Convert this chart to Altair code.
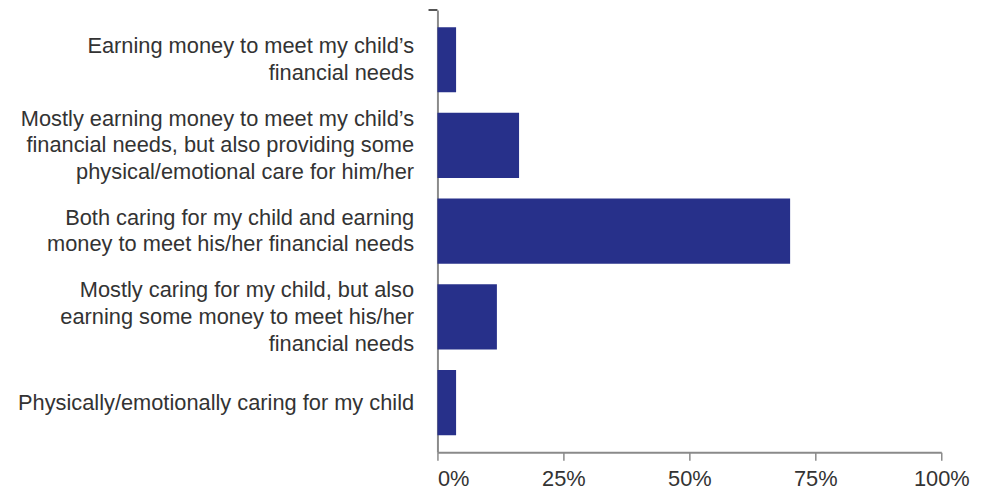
import altair as alt
import pandas as pd

categories = [
    "Earning money to meet my child’s|financial needs",
    "Mostly earning money to meet my child’s|financial needs, but also providing some|physical/emotional care for him/her",
    "Both caring for my child and earning|money to meet his/her financial needs",
    "Mostly caring for my child, but also|earning some money to meet his/her|financial needs",
    "Physically/emotionally caring for my child",
]
values = [3.7, 16.2, 70, 11.8, 3.7]
x_ticks = [0, 25, 50, 75, 100]

df = pd.DataFrame({"cat": categories, "val": values})

AXIS_COLOR = "#8a8a8a"
TEXT_COLOR = "#333333"
FONT = "Liberation Sans"
FS = 22
LH = 27

bars = alt.Chart(df).mark_bar(color="#27308a").encode(
    y=alt.Y(
        "cat:N",
        sort=None,
        title=None,
        scale=alt.Scale(paddingInner=0.24, paddingOuter=0.2),
        axis=alt.Axis(
            labelExpr="split(datum.label, '|')",
            labelFontSize=FS,
            labelFont=FONT,
            labelColor=TEXT_COLOR,
            labelLineHeight=LH,
            labelPadding=24,
            labelLimit=500,
            labelOffset={
                "condition": [
                    {"test": "length(split(datum.label, '|')) == 3", "value": -LH},
                    {"test": "length(split(datum.label, '|')) == 2", "value": -LH / 2},
                ],
                "value": 0,
            },
            ticks=False,
            domainColor=AXIS_COLOR,
            domainWidth=2,
            grid=False,
        ),
    ),
    x=alt.X(
        "val:Q",
        title=None,
        scale=alt.Scale(domain=[0, 100], nice=False),
        axis=alt.Axis(
            values=x_ticks,
            labelExpr="datum.value + '%'",
            labelFontSize=FS,
            labelFont=FONT,
            labelColor=TEXT_COLOR,
            labelPadding=8,
            labelAlign={"condition": {"test": "datum.value == 0", "value": "left"}, "value": "center"},
            tickSize=8,
            tickColor=AXIS_COLOR,
            tickWidth=1.5,
            domainColor=AXIS_COLOR,
            domainWidth=2,
            grid=False,
        ),
    ),
)

cap = alt.Chart(pd.DataFrame({"a": [0]})).mark_rule(color="#555555", strokeWidth=2).encode(
    x=alt.value(-9), x2=alt.value(0), y=alt.value(0)
)

chart = alt.layer(bars, cap).properties(
    width=508,
    height=446,
    background="white",
    autosize=alt.AutoSizeParams(type="none"),
    padding={"left": 433, "right": 33, "top": 0, "bottom": 39},
).configure_view(stroke=None)

chart.save("out.html", embed_options={"renderer": "svg", "actions": False})
